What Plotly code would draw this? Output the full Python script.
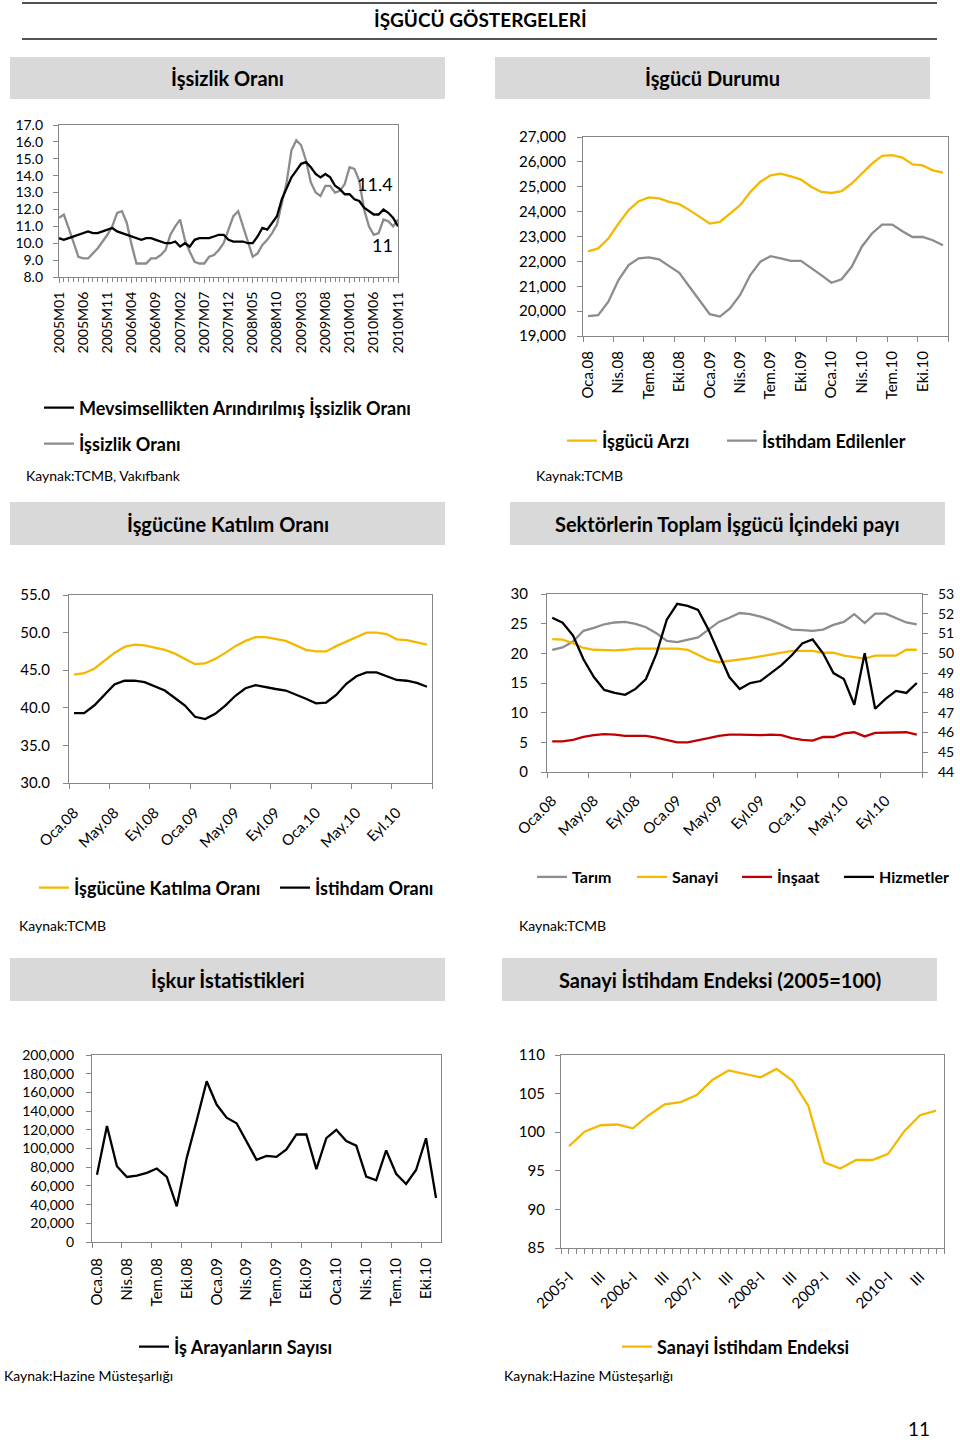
import plotly.graph_objects as go

W, H = 960, 1444

# ---------------- DATA ----------------
# Chart 1: İşsizlik Oranı (monthly 2005M01 - 2010M11)
unemp_tick_labels = ["2005M01", "2005M06", "2005M11", "2006M04", "2006M09", "2007M02", "2007M07",
                     "2007M12", "2008M05", "2008M10", "2009M03", "2009M08", "2010M01", "2010M06", "2010M11"]
unemp_raw = [11.5, 11.7, 10.9, 10.0, 9.2, 9.1, 9.1, 9.4, 9.7, 10.1,
             10.5, 11.0, 11.8, 11.9, 11.2, 9.9, 8.8, 8.8, 8.8, 9.1,
             9.1, 9.3, 9.6, 10.5, 11.0, 11.4, 10.2, 9.5, 8.9, 8.8,
             8.8, 9.2, 9.3, 9.6, 10.0, 10.8, 11.6, 11.9, 11.0, 10.0,
             9.2, 9.4, 9.9, 10.2, 10.6, 11.1, 12.3, 13.6, 15.5, 16.1,
             15.8, 14.9, 13.6, 13.0, 12.8, 13.4, 13.4, 13.0, 13.1, 13.5,
             14.5, 14.4, 13.7, 12.0, 11.0, 10.5, 10.6, 11.4, 11.3, 11.0,
             11.4]
unemp_sa = [10.3, 10.2, 10.3, 10.4, 10.5, 10.6, 10.7, 10.6, 10.6, 10.7,
            10.8, 10.9, 10.7, 10.6, 10.5, 10.4, 10.3, 10.2, 10.3, 10.3,
            10.2, 10.1, 10.0, 10.0, 10.1, 9.8, 10.0, 9.8, 10.2, 10.3,
            10.3, 10.3, 10.4, 10.5, 10.5, 10.2, 10.1, 10.1, 10.1, 10.0,
            10.0, 10.4, 10.9, 10.8, 11.2, 11.6, 12.6, 13.3, 13.9, 14.3,
            14.7, 14.8, 14.5, 14.1, 13.9, 14.1, 13.9, 13.4, 13.2, 12.9,
            12.9, 12.6, 12.5, 12.1, 11.9, 11.7, 11.7, 12.0, 11.8, 11.5,
            11.0]

# Chart 2: İşgücü Durumu (monthly Oca.08 - Ara.10, thousand persons)
quarter_month_labels = ["Oca.08", "Nis.08", "Tem.08", "Eki.08", "Oca.09", "Nis.09",
                        "Tem.09", "Eki.09", "Oca.10", "Nis.10", "Tem.10", "Eki.10"]
labor_supply = [22400, 22520, 22920, 23520, 24060, 24420, 24570, 24530, 24390, 24300,
                24060, 23790, 23520, 23590, 23930, 24260, 24790, 25200, 25460, 25530,
                25420, 25290, 25000, 24790, 24750, 24820, 25130, 25530, 25930, 26240,
                26270, 26170, 25900, 25860, 25660, 25570]
employed = [19800, 19840, 20380, 21250, 21850, 22120, 22160, 22080, 21810, 21540,
            20980, 20440, 19880, 19780, 20110, 20650, 21450, 21990, 22210, 22120,
            22020, 22020, 21750, 21450, 21140, 21280, 21780, 22590, 23120, 23480,
            23480, 23210, 22980, 22980, 22850, 22650]

# Chart 3: İşgücüne Katılım Oranı (monthly Oca.08 - Ara.10)
four_month_labels = ["Oca.08", "May.08", "Eyl.08", "Oca.09", "May.09", "Eyl.09", "Oca.10", "May.10", "Eyl.10"]
participation = [44.4, 44.6, 45.2, 46.3, 47.3, 48.1, 48.4, 48.3, 48.0, 47.7,
                 47.2, 46.5, 45.8, 45.9, 46.5, 47.3, 48.2, 48.9, 49.4, 49.4,
                 49.1, 48.9, 48.3, 47.7, 47.5, 47.5, 48.2, 48.8, 49.5, 50.0,
                 50.0, 49.8, 49.1, 49.0, 48.7, 48.4]
employment_rate = [39.3, 39.3, 40.3, 41.7, 43.1, 43.6, 43.6, 43.4, 42.8, 42.3,
                   41.3, 40.3, 38.8, 38.5, 39.2, 40.3, 41.6, 42.6, 43.0, 42.7,
                   42.5, 42.3, 41.8, 41.2, 40.6, 40.7, 41.7, 43.2, 44.2, 44.7,
                   44.7, 44.2, 43.7, 43.6, 43.3, 42.8]

# Chart 4: Sektörlerin payı (%)
tarim = [20.6, 21.0, 22.0, 23.8, 24.3, 24.9, 25.2, 25.3, 24.95, 24.4,
         23.4, 22.1, 21.9, 22.3, 22.7, 24.0, 25.3, 26.0, 26.8, 26.6,
         26.2, 25.6, 24.8, 24.0, 23.9, 23.8, 24.0, 24.8, 25.3, 26.6,
         25.1, 26.7, 26.7, 26.0, 25.2, 24.9]
sanayi = [22.4, 22.3, 21.7, 20.9, 20.6, 20.5, 20.5, 20.6, 20.8, 20.8,
          20.8, 20.9, 20.8, 20.6, 19.8, 18.9, 18.5, 18.7, 18.9, 19.2,
          19.5, 19.8, 20.1, 20.4, 20.4, 20.4, 20.1, 20.1, 19.6, 19.4,
          19.1, 19.6, 19.6, 19.6, 20.6, 20.6]
insaat = [5.15, 5.15, 5.4, 5.9, 6.2, 6.4, 6.3, 6.1, 6.1, 6.1,
          5.8, 5.4, 5.0, 5.0, 5.3, 5.7, 6.1, 6.3, 6.3, 6.2,
          6.2, 6.3, 6.2, 5.7, 5.4, 5.3, 5.9, 5.9, 6.5, 6.7,
          6.0, 6.6, 6.6, 6.6, 6.7, 6.3]
hizmetler = [51.8, 51.55, 50.9, 49.7, 48.8, 48.15, 48.0, 47.9, 48.2, 48.7,
             49.97, 51.7, 52.5, 52.4, 52.2, 51.2, 50.0, 48.8, 48.2, 48.5,
             48.6, 49.0, 49.4, 49.9, 50.5, 50.7, 50.0, 49.0, 48.7, 47.4,
             50.0, 47.2, 47.7, 48.1, 48.0, 48.5]

# Chart 5: İş Arayanların Sayısı (monthly Oca.08 - Kas.10)
job_seekers = [72000, 124000, 81000, 69600, 71000, 74000, 78600, 69600, 38200, 90000,
               130000, 172000, 147000, 133000, 127000, 108000, 88000, 92000, 91000, 99000,
               115000, 115000, 78000, 111000, 120000, 108000, 103000, 70000, 66000, 98000,
               73000, 62000, 77000, 111000, 47000]

# Chart 6: Sanayi İstihdam Endeksi (quarterly 2005-I - 2010-IV)
index_tick_labels = ["2005-I", "III", "2006-I", "III", "2007-I", "III",
                     "2008-I", "III", "2009-I", "III", "2010-I", "III"]
industry_index = [98.2, 100.1, 100.9, 101.0, 100.5, 102.2, 103.6, 103.9,
                  104.8, 106.8, 108.0, 107.5, 107.1, 108.2, 106.7, 103.4,
                  96.1, 95.3, 96.4, 96.4, 97.2, 100.1, 102.2, 102.8]

# ---------------- STYLE ----------------
FONT = "Lato"
YELLOW = "#F4B800"
GRAY = "#8C8C8C"
BLACK = "#000000"
RED = "#C00000"
AXC = "#868686"
LW = 2.3


def dom(x0, x1, y0, y1):
    return [x0 / W, x1 / W], [1 - y1 / H, 1 - y0 / H]


fig = go.Figure()
legends = {}


def leg(x_text, y, size=18):
    x = x_text - 41
    return dict(x=x / W, y=1 - y / H, xanchor="left", yanchor="middle", orientation="h",
                font=dict(family=FONT, size=size, color="#000", weight="bold"),
                bgcolor="rgba(0,0,0,0)", borderwidth=0, itemclick=False, itemdoubleclick=False,
                visible=True)


def add(y, color, name, xa, ya, legpos):
    key = "legend" if not legends else f"legend{len(legends) + 1}"
    legends[key] = leg(*legpos)
    fig.add_trace(go.Scatter(x=list(range(len(y))), y=y, mode="lines",
                             line=dict(color=color, width=LW), name=name, showlegend=True,
                             xaxis=xa, yaxis=ya, legend=key, hoverinfo="x+y+name"))


add(unemp_raw, GRAY, "İşsizlik Oranı", "x", "y", (80, 444))
add(unemp_sa, BLACK, "Mevsimsellikten Arındırılmış İşsizlik Oranı", "x", "y", (80, 408))
add(labor_supply, YELLOW, "İşgücü Arzı", "x2", "y2", (603, 441))
add(employed, GRAY, "İstihdam Edilenler", "x2", "y2", (763, 441))
add(participation, YELLOW, "İşgücüne Katılma Oranı", "x3", "y3", (75, 888))
add(employment_rate, BLACK, "İstihdam Oranı", "x3", "y3", (316, 888))
add(tarim, GRAY, "Tarım", "x4", "y4", (573, 877, 16))
add(sanayi, YELLOW, "Sanayi", "x4", "y4", (673, 877, 16))
add(insaat, RED, "İnşaat", "x4", "y4", (778, 877, 16))
add(hizmetler, BLACK, "Hizmetler", "x4", "y7", (880, 877, 16))
add(job_seekers, BLACK, "İş Arayanların Sayısı", "x5", "y5", (175, 1347))
add(industry_index, YELLOW, "Sanayi İstihdam Endeksi", "x6", "y6", (658, 1347))

tickfont = dict(family=FONT, size=15, color="#000")
base = dict(showline=True, linecolor=AXC, linewidth=1.3, mirror=True, showgrid=False,
            zeroline=False, tickfont=tickfont, tickcolor=AXC, ticklen=5, fixedrange=True,
            automargin=False)


def xax(domain, anchor, rng, tickvals, ticktext, angle, standoff, minor):
    d = dict(base)
    d.update(domain=domain, anchor=anchor, range=rng, tickmode="array", tickvals=tickvals,
             ticktext=ticktext, tickangle=angle, ticklabelstandoff=standoff, minor=minor)
    return d


def yax(domain, anchor, rng, dtick, fmt, standoff, size=15):
    d = dict(base)
    d.update(domain=domain, anchor=anchor, range=rng, dtick=dtick, tick0=rng[0],
             tickformat=fmt, ticks="outside", ticklabelstandoff=standoff,
             tickfont=dict(family=FONT, size=size, color="#000"))
    return d


def minor_ticks(tick0, dtick, length=5):
    return dict(tickmode="linear", tick0=tick0, dtick=dtick, ticks="outside",
                ticklen=length, tickcolor=AXC, showgrid=False)


d1x, d1y = dom(59, 398, 125, 277)
d2x, d2y = dom(583, 948, 137, 336)
d3x, d3y = dom(69, 432, 595, 783)
d4x, d4y = dom(547, 922, 594, 772)
d5x, d5y = dom(92, 441, 1055, 1242)
d6x, d6y = dom(561, 944, 1055, 1248)

layout = dict(
    width=W, height=H, margin=dict(l=0, r=0, t=0, b=0, autoexpand=False),
    autosize=False, showlegend=True,
    paper_bgcolor="white", plot_bgcolor="white",
    font=dict(family=FONT, color="#000"),
    xaxis=dict(xax(d1x, "y", [0, len(unemp_raw) - 1], list(range(0, 71, 5)), unemp_tick_labels,
                   -90, 3, minor_ticks(0, 1, 4)), ticks="outside", tickfont=dict(family=FONT, size=14, color="#000")),
    yaxis=yax(d1y, "x", [8, 17], 1, ".1f", 7, 14),
    xaxis2=dict(xax(d2x, "y2", [-0.5, 35.5], list(range(0, 36, 3)), quarter_month_labels,
                    -90, 8, minor_ticks(-0.5, 3)), ticks=""),
    yaxis2=yax(d2y, "x2", [19000, 27000], 1000, ",", 8),
    xaxis3=dict(xax(d3x, "y3", [-0.5, 35.5], list(range(0, 36, 4)), four_month_labels,
                    -45, 14, minor_ticks(-0.5, 4)), ticks=""),
    yaxis3=yax(d3y, "x3", [30, 55], 5, ".1f", 10),
    xaxis4=dict(xax(d4x, "y4", [-0.5, 35.5], list(range(0, 36, 4)), four_month_labels,
                    -45, 13, minor_ticks(-0.5, 4)), ticks=""),
    yaxis4=yax(d4y, "x4", [0, 30], 5, "d", 10),
    yaxis7=dict(yax(d4y, "x4", [44, 53], 1, "d", 7, 14), overlaying="y4", side="right", mirror=False),
    xaxis5=dict(xax(d5x, "y5", [-0.5, 34.5], list(range(0, 35, 3)), quarter_month_labels,
                    -90, 9, minor_ticks(-0.5, 3)), ticks=""),
    yaxis5=yax(d5y, "x5", [0, 200000], 20000, ",", 9, 14),
    xaxis6=dict(xax(d6x, "y6", [-0.5, 23.5], list(range(0, 24, 2)), index_tick_labels,
                    -45, 13, minor_ticks(-0.5, 0.5)), ticks=""),
    yaxis6=yax(d6y, "x6", [85, 110], 5, "d", 7),
)
layout.update(legends)

fig.update_layout(**layout)

# ---------------- DECORATIONS ----------------
shapes = []
annotations = []

# title lines
for yy in (3, 39):
    shapes.append(dict(type="line", xref="paper", yref="paper", x0=22 / W, x1=937 / W,
                       y0=1 - yy / H, y1=1 - yy / H, line=dict(color="#1a1a1a", width=1.5)))
annotations.append(dict(text="İŞGÜCÜ GÖSTERGELERİ", x=480 / W, y=1 - 20 / H, xref="paper", yref="paper",
                        showarrow=False, xanchor="center", yanchor="middle",
                        font=dict(family=FONT, size=19, color="#000", weight="bold")))

headers = [
    ("İşsizlik Oranı", 10, 445, 57, 99),
    ("İşgücü Durumu", 495, 930, 57, 99),
    ("İşgücüne Katılım Oranı", 10, 445, 502, 545),
    ("Sektörlerin Toplam İşgücü İçindeki payı", 510, 945, 502, 545),
    ("İşkur İstatistikleri", 10, 445, 958, 1001),
    ("Sanayi İstihdam Endeksi (2005=100)", 502, 937, 958, 1001),
]
for txt, x0, x1, y0, y1 in headers:
    shapes.append(dict(type="rect", xref="paper", yref="paper", x0=x0 / W, x1=x1 / W,
                       y0=1 - y1 / H, y1=1 - y0 / H, fillcolor="#D9D9D9", line=dict(width=0),
                       layer="below"))
    annotations.append(dict(text=txt, x=(x0 + x1) / 2 / W, y=1 - (y0 + y1) / 2 / H, xref="paper",
                            yref="paper", showarrow=False, xanchor="center", yanchor="middle",
                            font=dict(family=FONT, size=20, color="#000", weight="bold")))

sources = [
    ("Kaynak:TCMB, Vakıfbank", 24, 476),
    ("Kaynak:TCMB", 534, 476),
    ("Kaynak:TCMB", 17, 925),
    ("Kaynak:TCMB", 517, 925),
    ("Kaynak:Hazine Müsteşarlığı", 2, 1375),
    ("Kaynak:Hazine Müsteşarlığı", 502, 1375),
]
for txt, x, y in sources:
    annotations.append(dict(text=txt, x=x / W, y=1 - y / H, xref="paper", yref="paper",
                            showarrow=False, xanchor="left", yanchor="middle",
                            font=dict(family=FONT, size=14, color="#000")))

# value labels on chart 1
annotations.append(dict(text=f"{unemp_raw[-1]:.1f}", x=len(unemp_raw) - 1, y=13.5, xref="x", yref="y",
                        showarrow=False, xanchor="right", yanchor="middle", xshift=-3,
                        font=dict(family=FONT, size=18, color="#000")))
annotations.append(dict(text=f"{unemp_sa[-1]:g}", x=len(unemp_sa) - 1, y=9.9, xref="x", yref="y",
                        showarrow=False, xanchor="right", yanchor="middle", xshift=-3,
                        font=dict(family=FONT, size=18, color="#000")))

# page number
annotations.append(dict(text="11", x=932 / W, y=1 - 1442 / H, xref="paper", yref="paper",
                        showarrow=False, xanchor="right", yanchor="bottom",
                        font=dict(family=FONT, size=19, color="#000")))

fig.update_layout(shapes=shapes, annotations=annotations)

fig.write_html("out.html", config={"displayModeBar": False},
               post_script="document.body.style.margin='0';document.body.style.padding='0';")
